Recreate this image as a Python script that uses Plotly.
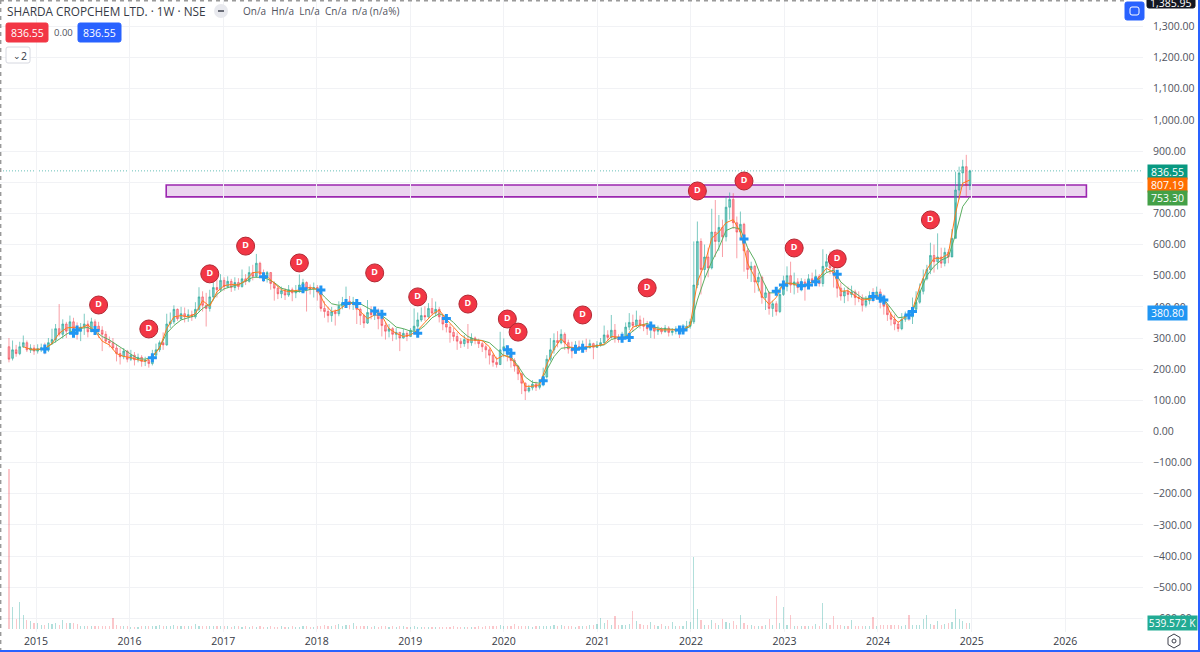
import pandas as pd
import plotly.graph_objects as go

PLOT_W, PLOT_H = 1143, 632
TITLE = "SHARDA CROPCHEM LTD. · 1W · NSE"
OHLC_TEXT = "On/a  Hn/a  Ln/a  Cn/a  n/a (n/a%)"

year_ticks = ["2015", "2016", "2017", "2018", "2019", "2020", "2021", "2022", "2023", "2024", "2025", "2026"]
price_ticks = [1300, 1200, 1100, 1000, 900, 800, 700, 600, 500, 400, 300, 200, 100, 0,
               -100, -200, -300, -400, -500, -600]
hidden_tick = 800

close = [
232,262,250,272,285,262,268,258,266,268,
262,285,295,330,312,345,322,352,330,322,
335,345,320,352,338,325,312,290,285,268,
250,240,258,232,245,230,238,225,228,218,
245,262,285,278,345,352,392,362,378,368,
375,368,392,432,405,395,432,462,455,485,
465,482,462,478,465,490,482,510,498,540,
505,495,510,475,460,442,452,438,455,445,
452,470,478,460,458,462,448,395,385,372,
385,378,402,412,418,408,415,392,372,348,
382,375,385,362,340,322,330,312,318,300,
315,305,325,338,358,372,368,395,380,392,
368,345,335,318,305,290,282,295,285,300,
292,282,272,262,245,222,215,262,272,248,
228,210,185,155,130,140,152,142,150,175,
232,262,292,285,312,285,265,258,272,270,
272,268,282,270,278,285,310,302,325,298,
295,305,335,350,340,358,342,338,330,335,
322,328,320,332,318,322,328,318,332,338,
352,470,610,520,560,525,640,610,655,625,
720,745,670,640,665,580,520,530,480,495,
430,445,395,410,385,440,465,500,470,480,
462,480,465,490,482,498,475,530,545,525,
505,460,435,450,440,448,430,428,405,420,
435,430,448,425,402,375,360,345,330,360,
372,368,392,415,450,490,520,565,545,560,
540,575,560,620,775,830,850,790,836.55]
open_ = [
272,235,262,250,272,285,262,268,258,266,
268,262,285,295,330,312,345,322,352,330,
322,335,345,320,352,338,325,312,290,285,
268,250,240,258,232,245,230,238,225,228,
218,245,262,285,278,345,352,392,362,378,
368,375,368,392,432,405,395,432,462,455,
485,465,482,462,478,465,490,482,510,498,
540,505,495,510,475,460,442,452,438,455,
445,452,470,478,460,458,462,448,395,385,
372,385,378,402,412,418,408,415,392,372,
348,382,375,385,362,340,322,330,312,318,
300,315,305,325,338,358,372,368,395,380,
392,368,345,335,318,305,290,282,295,285,
300,292,282,272,262,245,222,215,262,272,
248,228,210,185,155,130,140,152,142,150,
175,232,262,292,285,312,285,265,258,272,
270,272,268,282,270,278,285,310,302,325,
298,295,305,335,350,340,358,342,338,330,
335,322,328,320,332,318,322,328,318,332,
338,352,470,610,520,560,525,640,610,655,
625,720,745,670,640,665,580,520,530,480,
495,430,445,395,410,385,440,465,500,470,
480,462,480,465,490,482,498,475,530,545,
525,505,460,435,450,440,448,430,428,405,
420,435,430,448,425,402,375,360,345,330,
360,372,368,392,415,450,490,520,565,545,
560,540,575,560,620,775,830,850,790]
high = [
300,292,278,288,308,292,280,278,280,282,
285,300,330,345,409,360,352,372,365,350,
348,378,356,365,360,352,338,322,305,300,
280,268,268,262,262,255,250,245,240,235,
262,282,292,318,378,382,405,395,400,398,
392,388,415,463,450,445,455,480,508,505,
495,498,490,495,492,520,505,530,535,570,
545,520,515,512,482,468,465,460,470,462,
470,504,490,482,472,478,470,452,418,400,
400,392,418,432,465,435,432,425,398,378,
422,402,398,395,372,350,345,335,332,320,
330,322,332,395,382,398,402,412,428,417,
400,378,360,345,332,318,300,310,345,315,
305,298,290,280,268,250,240,320,299,275,
250,235,212,188,158,150,165,160,160,205,
245,300,315,322,328,318,295,288,290,292,
292,298,295,285,290,300,340,325,374,345,
312,320,350,380,375,388,372,365,355,352,
342,340,335,342,338,332,338,335,345,355,
362,610,674,620,600,590,715,743,695,680,
755,767,765,690,706,670,590,545,535,510,
500,470,450,420,418,448,500,530,545,510,
492,492,490,505,510,520,505,585,570,578,
530,510,478,462,465,468,455,450,440,435,
450,460,465,458,440,410,385,375,355,380,
385,390,430,450,475,520,535,606,600,636,
590,590,585,650,834,850,872,888,840]
low = [
222,228,240,245,268,255,252,246,250,255,
248,255,278,285,305,298,300,315,320,295,
290,310,302,322,325,300,258,282,270,262,
225,215,232,222,226,212,222,208,210,205,
212,238,255,262,275,332,345,355,358,350,
352,355,362,385,385,337,385,420,430,448,
452,460,448,452,455,462,470,478,485,495,
492,480,478,455,420,425,428,422,432,418,
428,445,452,385,440,430,420,385,365,350,
352,340,370,392,398,392,390,345,342,332,
345,360,358,328,305,295,302,290,295,258,
298,290,305,322,330,352,355,365,372,370,
350,325,318,285,290,262,268,272,265,275,
280,268,255,235,215,208,205,213,238,225,
205,192,165,120,101,125,132,130,135,145,
170,225,250,270,280,262,250,235,250,262,
262,255,268,232,268,272,282,290,298,285,
285,288,298,325,320,335,330,322,310,300,
298,310,312,318,305,308,312,300,315,325,
330,345,460,440,490,495,520,560,580,560,
610,680,650,556,620,513,490,480,445,450,
410,390,375,368,372,380,435,450,445,440,
445,450,420,470,465,472,465,465,510,505,
462,430,420,412,418,430,405,415,385,398,
408,415,428,395,375,355,340,325,320,325,
352,355,345,395,410,440,485,505,510,520,
525,530,540,583,735,745,785,754,775]
volume_m = [
14.4,2.0,.9,2.4,1.3,.8,.7,.5,.5,.4,
.4,.55,.45,.5,.4,.8,.5,.5,.55,.45,
.3,.3,.25,.25,.25,.3,.25,.25,.25,1.0,
.35,.3,.25,.25,.2,.2,.2,.25,.25,.3,
.3,.3,.35,.3,.25,.3,.35,.25,.3,.3,
.3,.25,.45,.25,.25,.3,.25,.25,.3,.3,
.25,.3,.2,.25,.25,.2,.25,.2,.3,.2,
.25,.2,.2,.25,.2,.2,.25,.2,.2,.25,
.2,.2,.25,.25,.2,.2,.3,.25,.35,.25,
.3,.4,.45,.3,.4,.35,.5,.3,.3,.25,
.25,.2,.25,.2,.25,.3,.2,.25,.2,.3,
.3,.2,.2,.25,.2,.2,.2,.2,.2,.2,
.2,.2,.2,.2,.25,.2,.2,.2,.2,.2,
.2,.25,.2,.25,.3,.25,.3,.35,.3,.25,
.25,.45,.3,.25,.25,.25,.2,.25,.3,.3,
.3,.3,.35,.3,.35,.3,.25,.3,.2,.25,
.3,.25,.35,.4,.45,1.0,.5,.8,.4,1.2,
.4,.35,.4,.45,1.6,.7,.45,.35,.4,.6,
.35,.3,.45,.3,.3,.6,.3,.3,.3,.7,
.6,6.5,1.8,.8,.4,.4,.8,.5,.4,.9,
.6,.5,.7,.4,1.25,.5,.4,.35,.3,.3,
.3,.4,.9,.4,3.0,.5,2.0,.4,1.25,.3,
.25,.25,.25,.25,.25,.45,.3,2.35,.55,.4,
1.2,.4,.35,.3,.3,.8,.3,.25,.3,.3,
.3,1.1,.3,.35,.35,.4,.35,.4,.35,.3,
.4,1.25,.35,.4,.4,.9,1.25,.45,.35,.7,
.4,.45,.5,.6,1.8,.9,.7,.55,.54]
ma_fast = [
None,None,272,264,264,266,283,315,332,335,
332,342,322,290,278,250,241,237,230,225,
240,268,330,368,372,368,378,420,402,448,
468,472,470,485,510,512,497,475,455,449,
452,456,463,455,410,385,390,408,412,385,
362,374,372,330,315,305,310,325,350,375,
390,360,335,310,294,292,292,272,232,245,
235,205,145,145,150,215,265,298,272,268,
270,273,275,280,305,303,300,335,342,342,
330,326,326,325,326,342,480,537,620,640,
670,680,640,540,495,435,408,430,476,476,
468,470,480,495,524,510,450,452,435,422,
425,438,425,375,350,368,390,465,520,556,
556,570,700,797,807.19]
ma_slow = [
None,None,None,262,262,266,280,296,312,325,
331,334,322,305,294,278,262,248,234,232,
240,270,315,340,358,365,372,395,408,440,
458,465,472,482,495,495,490,478,460,453,
449,450,456,458,432,410,405,410,415,410,
398,385,372,355,335,330,322,322,340,365,
378,368,350,325,305,295,292,285,265,244,
240,210,175,158,155,200,240,267,270,267,
268,272,275,278,295,302,304,322,340,347,
335,330,328,326,326,337,422,490,545,590,
645,655,650,590,550,490,445,445,472,476,
472,470,480,490,510,518,480,460,445,428,
427,430,425,395,365,368,385,445,500,530,
550,560,632,722,753.30]
d_bar_index = [25, 39, 56, 66, 81, 102, 114, 128, 139, 142, 160, 178, 192, 205, 219, 231, 257]
d_price = [406, 329, 506, 595, 541, 509, 432, 409, 361, 319, 374, 461, 772, 804, 589, 554, 679]
plus_bar_index = [10, 18, 19, 24, 40, 71, 82, 87, 94, 97, 102, 104, 114, 122, 139, 140, 149, 158, 160,
                  171, 173, 179, 187, 188, 205, 214, 216, 221, 223, 225, 231, 241, 243, 244, 251, 252]
plus_price = [265, 315, 326, 324, 237, 497, 458, 454, 411, 411, 387, 376, 315, 363, 262, 251, 163, 264, 267,
              299, 302, 339, 326, 326, 618, 450, 470, 468, 470, 481, 505, 433, 428, 422, 374, 385]
zone_low, zone_high = 753, 791
last_price = 836.55

dates = pd.date_range("2014-09-17", periods=len(close), freq="14D")
TEAL, RED = "rgba(38,166,154,0.6)", "rgba(242,54,69,0.48)"
AX = "#50535e"
FONT = "Open Sans"

fig = go.Figure()
fig.add_trace(go.Bar(
    x=dates, y=volume_m, yaxis="y2", width=4.6 * 86400000,
    marker=dict(color=["rgba(38,166,154,0.36)" if c >= o else "rgba(242,54,69,0.28)"
                       for c, o in zip(close, open_)], line_width=0),
    hoverinfo="skip"))
fig.add_trace(go.Candlestick(
    x=dates, open=open_, high=high, low=low, close=close, whiskerwidth=0,
    increasing=dict(line=dict(color=TEAL, width=1), fillcolor=TEAL),
    decreasing=dict(line=dict(color=RED, width=1), fillcolor=RED),
    hoverinfo="skip"))
fig.add_trace(go.Scatter(x=dates[::2], y=ma_slow, mode="lines", line=dict(color="#5cae60", width=1), hoverinfo="skip"))
fig.add_trace(go.Scatter(x=dates[::2], y=ma_fast, mode="lines", line=dict(color="#ff7a1a", width=1), hoverinfo="skip"))
fig.add_trace(go.Scatter(
    x=[dates[i] for i in plus_bar_index], y=plus_price, mode="markers",
    marker=dict(symbol="cross", size=7.5, color="#2196f3", line_width=0), hoverinfo="skip"))
fig.add_trace(go.Scatter(
    x=[dates[i] for i in d_bar_index], y=d_price, mode="markers+text",
    text=["D"] * len(d_bar_index), textposition="middle center",
    textfont=dict(color="white", size=9, family=FONT, weight="bold"),
    marker=dict(size=18, color="#f23645", line=dict(color="#b22833", width=1)), hoverinfo="skip"))


def px(x):
    return x / PLOT_W


def py(y):
    return 1 - y / PLOT_H


def rrect(x0, y0, x1, y1, fill, line=None, r=2):
    p = (f"M{px(x0+r)},{py(y0)} L{px(x1-r)},{py(y0)} Q{px(x1)},{py(y0)} {px(x1)},{py(y0+r)} "
         f"L{px(x1)},{py(y1-r)} Q{px(x1)},{py(y1)} {px(x1-r)},{py(y1)} L{px(x0+r)},{py(y1)} "
         f"Q{px(x0)},{py(y1)} {px(x0)},{py(y1-r)} L{px(x0)},{py(y0+r)} Q{px(x0)},{py(y0)} {px(x0+r)},{py(y0)} Z")
    return dict(type="path", xref="paper", yref="paper", path=p, fillcolor=fill,
                line=dict(color=line or fill, width=1), layer="above")


def label(x, y, s, color=AX, size=10.5, anchor="left", **kw):
    return dict(x=px(x), y=py(y), xref="paper", yref="paper", text=s, showarrow=False, xanchor=anchor,
                yanchor="middle", font=dict(family=FONT, size=size, color=color), **kw)


def line(x0, y0, x1, y1, color, width=1, dash="solid"):
    return dict(type="line", xref="paper", yref="paper", x0=px(x0), y0=py(y0), x1=px(x1), y1=py(y1),
                line=dict(color=color, width=width, dash=dash), layer="above")


shapes = [
    dict(type="rect", xref="x", yref="y", x0="2016-05-23", x1="2026-03-25", y0=zone_low, y1=zone_high,
         fillcolor="rgba(156,39,176,0.2)", line=dict(color="#9c27b0", width=1.6), layer="below"),
    dict(type="line", xref="paper", yref="y", x0=0, x1=1, y0=last_price, y1=last_price,
         line=dict(color="rgba(38,166,154,0.7)", width=1, dash="1px,2px"), layer="below"),
    line(0.7, 0, 0.7, 652, "#9a9a9a", 1.4, "4px,4px"),
    line(0, 0.7, 1125, 0.7, "#9a9a9a", 1.4, "4px,4px"),
    line(1199, 0, 1199, 652, "#2962ff", 2),
    line(0, 651, 1200, 651, "#2962ff", 2),
    rrect(6, 23, 48, 42, "#f23645"),
    rrect(78, 23, 121, 42, "#2962ff"),
    rrect(6, 47, 30, 63, "#ffffff", "#d6d8e0"),
    rrect(1125, 2, 1144, 20, "#2962ff"),
    rrect(1130, 7, 1139, 15, "rgba(0,0,0,0)", "#ffffff"),
    rrect(1147, -3, 1195, 8, "#131722"),
    dict(type="circle", xref="paper", yref="paper", x0=px(214), x1=px(228), y0=py(4), y1=py(18),
         fillcolor="#e8e9ee", line_width=0, layer="above"),
    line(218, 11, 224, 11, "#6a6d78", 2),
    # settings glyph
    dict(type="path", xref="paper", yref="paper",
         path=(f"M{px(1174)},{py(634)} L{px(1180)},{py(637.5)} L{px(1180)},{py(644.5)} L{px(1174)},{py(648)} "
               f"L{px(1168)},{py(644.5)} L{px(1168)},{py(637.5)} Z"),
         line=dict(color="#3c3f4a", width=1), layer="above"),
    dict(type="circle", xref="paper", yref="paper", x0=px(1172), x1=px(1176), y0=py(639), y1=py(643),
         line=dict(color="#3c3f4a", width=1), layer="above"),
]

tag = dict(width=37, height=12, align="center")
annotations = [
    label(5, 11, TITLE, "#363a45", 11.8),
    label(241, 11, OHLC_TEXT, "#50535e", 10),
    label(27, 32.5, "836.55", "#ffffff", 10.5, "center"),
    label(63, 32.5, "0.00", "#50535e", 9.5, "center"),
    label(99.5, 32.5, "836.55", "#ffffff", 10.5, "center"),
    label(11, 55, "⌄", "#363a45", 9),
    label(23.5, 55.5, "2", "#363a45", 10.5, "center"),
    label(1171, 3, "1,385.95", "#ffffff", 10.5, "center"),
    label(1147, 171.5, "836.55", "#ffffff", 10.5, bgcolor="#089981", **tag),
    label(1147, 184.5, "807.19", "#ffffff", 10.5, bgcolor="#ff6d00", **tag),
    label(1147, 198, "753.30", "#ffffff", 10.5, bgcolor="#43a047", **tag),
    label(1147, 313, "380.80", "#ffffff", 10.5, bgcolor="#2196f3", **tag),
    label(1147, 623, "539.572 K", "#ffffff", 10.2, bgcolor="#22ab94", width=47, height=12, align="center"),
]

fig.update_layout(
    width=1200, height=652, margin=dict(l=0, r=57, t=0, b=20, autoexpand=False),
    paper_bgcolor="white", plot_bgcolor="white", showlegend=False, bargap=0,
    xaxis=dict(type="date", range=["2014-08-13", "2026-11-01"], rangeslider_visible=False,
               tickvals=[f"{y}-01-01" for y in year_ticks], ticktext=year_ticks,
               tickfont=dict(family=FONT, size=10.5, color="#363a45"), showgrid=True,
               gridcolor="#f1f2f5", gridwidth=1, ticks="", showline=False, zeroline=False, ticklabelstandoff=1),
    yaxis=dict(side="right", range=[-643.6, 1385], tickvals=price_ticks,
               ticktext=["" if v == hidden_tick else f"{v:,.2f}".replace("-", "−") for v in price_ticks],
               tickfont=dict(family=FONT, size=10.5, color=AX), showgrid=True, gridcolor="#f1f2f5",
               gridwidth=1, ticks="", showline=False, zeroline=False, ticklabelstandoff=9, automargin=False),
    yaxis2=dict(overlaying="y", range=[-0.27, 56.6], visible=False),
    shapes=shapes, annotations=annotations,
)
fig.write_html("out.html", config={"displayModeBar": False},
               post_script="document.body.style.margin='0';document.documentElement.style.overflow='hidden';")
